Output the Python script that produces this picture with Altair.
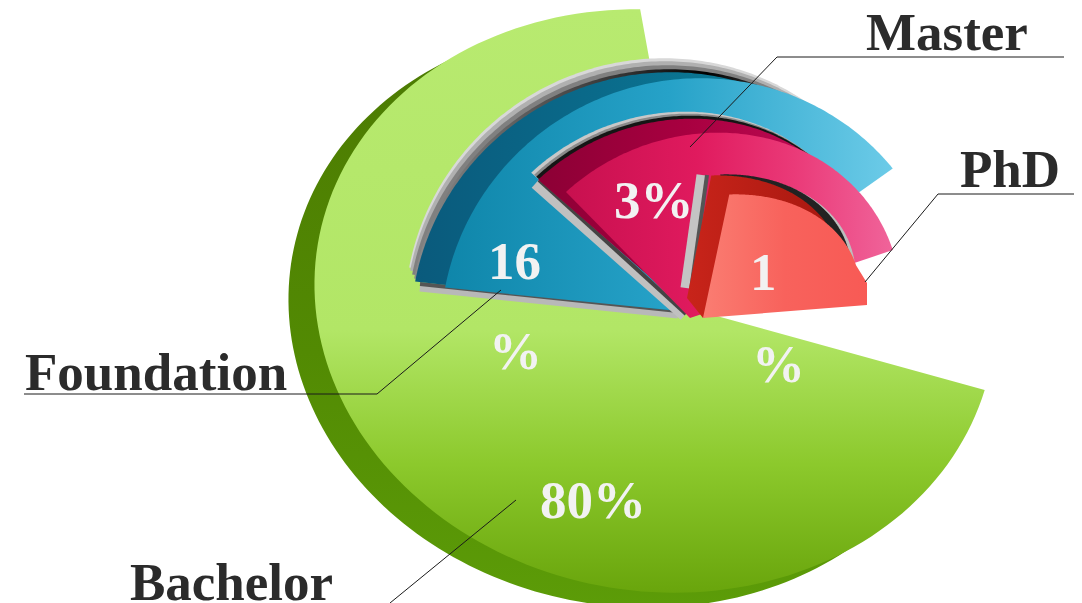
import math
import altair as alt

# ---- chart values
categories = ["Bachelor", "Foundation", "Master", "PhD"]
shares = [80, 16, 3, 1]

# ---- slice outlines: centre x, centre y, semi axis a, semi axis b, tilt (deg)
E_GREEN = (655, 301, 342, 290, 10)
E_BLUE = (694, 328, 255, 248, -30)
E_PINK = (700, 319, 205, 182, -25)
E_RED = (705, 318, 160, 118, -20)

FONT = "Liberation Serif"
W, H = 1066, 595


def outline(e, t0, t1, apex, dx=0, dy=0, extra=()):
    cx, cy, a, b, phi = e
    c, s = math.cos(math.radians(phi)), math.sin(math.radians(phi))
    pts = [list(apex)]
    n = 140
    for i in range(n + 1):
        t = math.radians(t0 + (t1 - t0) * i / n)
        u, v = a * math.cos(t), b * math.sin(t)
        pts.append([cx + u * c - v * s + dx, cy + u * s + v * c + dy])
    pts.extend([list(p) for p in extra])
    pts.append(list(apex))
    return pts


def grad(stops, x1=0.0, y1=0.0, x2=1.0, y2=0.0):
    return alt.Gradient(
        gradient="linear",
        stops=[alt.GradientStop(offset=o, color=c) for o, c in stops],
        x1=x1, y1=y1, x2=x2, y2=y2,
    )


def shape(pts, fill):
    feature = {"type": "Feature", "properties": {},
               "geometry": {"type": "Polygon", "coordinates": [pts]}}
    return (
        alt.Chart(alt.Data(values=[feature]))
        .mark_geoshape(filled=True, fill=fill, strokeWidth=0)
        .project(type="identity", scale=1, translate=[-8, -8])
    )


xs = alt.Scale(domain=[8, 8 + W], range=[0, W], nice=False, zero=False)
ys = alt.Scale(domain=[8 + H, 8], nice=False, zero=False)


def seg(x1, y1, x2, y2, color, width, cap="butt"):
    return (
        alt.Chart(alt.Data(values=[{"a": x1, "b": y1, "c": x2, "d": y2}]))
        .mark_rule(color=color, strokeWidth=width, strokeCap=cap)
        .encode(
            x=alt.X("a:Q", scale=xs, axis=None),
            y=alt.Y("b:Q", scale=ys, axis=None),
            x2="c:Q",
            y2="d:Q",
        )
    )


def label(txt, x, y, color):
    return (
        alt.Chart(alt.Data(values=[{"a": x, "b": y, "t": txt}]))
        .mark_text(font=FONT, fontWeight="bold", fontSize=53, align="left",
                   baseline="alphabetic", color=color)
        .encode(
            x=alt.X("a:Q", scale=xs, axis=None),
            y=alt.Y("b:Q", scale=ys, axis=None),
            text="t:N",
        )
    )


layers = []

# Bachelor
layers.append(shape(outline(E_GREEN, 30, 240, (695, 310), -26, 15),
                    grad([(0, "#4c7a02"), (0.55, "#528a03"), (1, "#5c9c08")], 0, 0, 0, 1)))
layers.append(shape(outline(E_GREEN, 6, 259, (695, 310)),
                    grad([(0, "#b8ea70"), (0.55, "#b2e666"), (0.78, "#8cc92c"), (1, "#69a50c")], 0, 0, 0, 1)))

# Foundation
for (dx, dy), col in zip([(-36, -20), (-35, -17), (-33, -13), (-31, -9)],
                         ["#d8d8d8", "#b0b0b0", "#808080", None]):
    fill = col if col else grad([(0, "#8a8a8a"), (0.5, "#303030"), (0.68, "#000000"), (1, "#777777")])
    layers.append(shape(outline(E_BLUE, 220, 345, (685, 312), dx, dy), fill))
layers.append(seg(420, 287, 678, 314, "#b8b8b8", 9))
layers.append(seg(420, 284, 678, 311, "#555555", 4))
layers.append(shape(outline(E_BLUE, 220, 325, (685, 312), -30, -6),
                    grad([(0, "#0a5a7c"), (0.5, "#0a6a8a"), (1, "#0b7d98")])))
layers.append(shape(outline(E_BLUE, 220, 351, (690, 312)),
                    grad([(0, "#0f86aa"), (0.5, "#26a2c8"), (1, "#6ccbe8")])))

# Master
layers.append(seg(535, 184, 684, 316, "#c0c0c0", 10))
layers.append(seg(539, 180, 686, 314, "#444444", 4))
for (dx, dy), col in zip([(-33, -21), (-30, -19), (-28, -17)],
                         ["#c8c8c8", "#8a8a8a", "#151515"]):
    layers.append(shape(outline(E_PINK, 250, 352, (690, 312), dx, dy), col))
layers.append(shape(outline(E_PINK, 250, 345, (690, 312), -26, -14),
                    grad([(0, "#8c0035"), (0.5, "#a80040"), (1, "#c00c55")])))
layers.append(shape(outline(E_PINK, 250.7, 366, (690, 318)),
                    grad([(0, "#c8104f"), (0.4, "#e01a5e"), (0.7, "#ea3a78"), (1, "#f0649a")])))

# PhD
layers.append(seg(702, 175, 686, 288, "#c4c4c4", 11))
layers.append(seg(707, 175, 691, 290, "#555555", 4))
layers.append(shape(outline(E_RED, 294, 368, (703, 318), -5, -18), "#bdbdbd"))
layers.append(shape(outline(E_RED, 294, 364, (703, 318), -9, -20), "#222222"))
layers.append(shape(outline(E_RED, 294, 352, (687, 298), -18, -19, [(703, 318)]),
                    grad([(0, "#c8241a"), (1, "#a81810")])))
layers.append(shape(outline(E_RED, 294, 361, (703, 318), 0, 0, [(867, 283), (867, 305)]),
                    grad([(0, "#fa7d72"), (0.5, "#f8625c"), (1, "#f85a55")])))

# leaders
for a in [
    (690, 147, 777, 57), (777, 57, 1064, 57),
    (865, 282, 938, 194), (938, 194, 1075, 194),
    (501, 290, 377, 394), (377, 394, 24, 394),
    (516, 500, 390, 603),
]:
    layers.append(seg(*a, "#1a1a1a", 1))

# texts
layers += [
    label(categories[2], 866, 50, "#2b2b2b"),
    label(categories[3], 960, 187, "#2b2b2b"),
    label(categories[1], 25, 390, "#2b2b2b"),
    label(categories[0], 130, 600, "#2b2b2b"),
    label(str(shares[1]), 488, 279, "#f2f2f2"),
    label("%", 489, 369, "#f2f2f2"),
    label(f"{shares[2]}%", 614, 218, "#f2f2f2"),
    label(str(shares[3]), 750, 290, "#f2f2f2"),
    label("%", 752, 382, "#f2f2f2"),
    label(f"{shares[0]}%", 540, 518, "#f2f2f2"),
]

chart = (
    alt.layer(*layers)
    .properties(width=W, height=H, padding=0,
                autosize=alt.AutoSizeParams(type="none"), background="white")
    .configure_view(strokeWidth=0)
)
chart.save("out.html", embed_options={"renderer": "svg", "actions": False})
